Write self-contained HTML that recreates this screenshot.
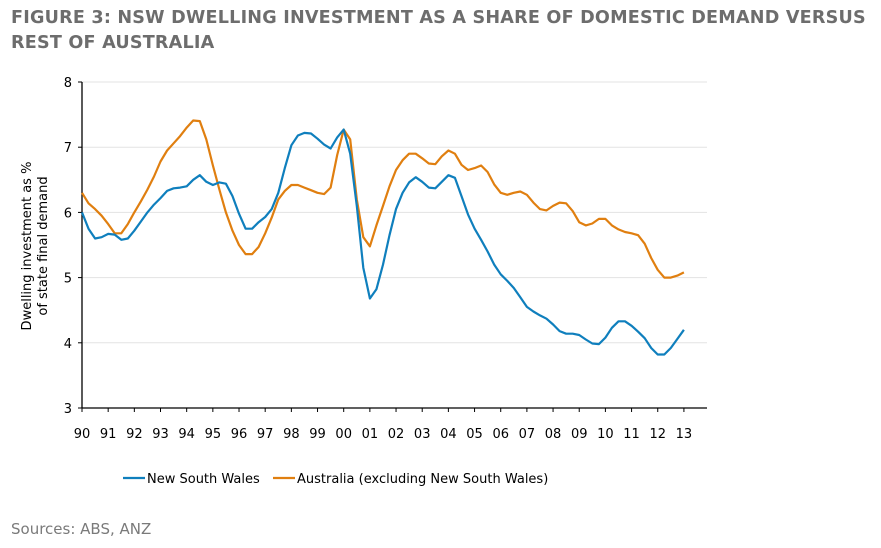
<!DOCTYPE html>
<html><head><meta charset="utf-8"><style>
body{margin:0;width:881px;height:548px;background:#fff;font-family:"DejaVu Sans","Liberation Sans",sans-serif;overflow:hidden}
.title{position:absolute;left:11px;top:6px;font-weight:bold;font-size:17.6px;color:#6d6d6d;line-height:25px;letter-spacing:0.2px;white-space:nowrap}
.src{position:absolute;left:11px;top:520px;font-size:15px;color:#7a7a7a}
</style></head><body>
<div class="title">FIGURE 3: NSW DWELLING INVESTMENT AS A SHARE OF DOMESTIC DEMAND VERSUS<br>REST OF AUSTRALIA</div>
<svg id="chart" width="881" height="548" style="position:absolute;left:0;top:0;font-family:'DejaVu Sans',sans-serif"></svg>
<div class="src">Sources: ABS, ANZ</div>
<script>
const yTicks=[3,4,5,6,7,8];
const xLabels=["90","91","92","93","94","95","96","97","98","99","00","01","02","03","04","05","06","07","08","09","10","11","12","13"];
const nsw=[6.0,5.75,5.6,5.62,5.67,5.66,5.58,5.6,5.72,5.86,6.0,6.12,6.22,6.33,6.37,6.38,6.4,6.5,6.57,6.47,6.42,6.46,6.44,6.25,5.98,5.75,5.75,5.85,5.93,6.05,6.3,6.68,7.03,7.18,7.22,7.21,7.13,7.04,6.98,7.15,7.27,6.9,6.1,5.15,4.68,4.82,5.2,5.65,6.05,6.3,6.46,6.54,6.47,6.38,6.37,6.47,6.57,6.53,6.25,5.97,5.75,5.58,5.4,5.2,5.05,4.95,4.84,4.7,4.55,4.48,4.42,4.37,4.28,4.18,4.14,4.14,4.12,4.05,3.99,3.98,4.08,4.23,4.33,4.33,4.26,4.17,4.07,3.92,3.82,3.82,3.92,4.06,4.2];
const aus=[6.3,6.14,6.05,5.95,5.82,5.68,5.68,5.82,6.0,6.17,6.35,6.55,6.78,6.95,7.06,7.17,7.3,7.41,7.4,7.12,6.72,6.35,6.0,5.72,5.5,5.36,5.36,5.47,5.68,5.92,6.2,6.33,6.42,6.42,6.38,6.34,6.3,6.28,6.38,6.88,7.27,7.12,6.2,5.62,5.48,5.8,6.1,6.4,6.65,6.8,6.9,6.9,6.83,6.75,6.74,6.86,6.95,6.9,6.73,6.65,6.68,6.72,6.62,6.43,6.3,6.27,6.3,6.32,6.27,6.15,6.05,6.03,6.1,6.15,6.14,6.02,5.85,5.8,5.83,5.9,5.9,5.8,5.74,5.7,5.68,5.65,5.52,5.3,5.12,5.0,5.0,5.03,5.08];
const startYear=1990;
const svg=document.getElementById('chart');
const NS='http://www.w3.org/2000/svg';
const X0=82,X1=707,Y0=408,Y1=82;
function y(v){return Y0-(v-3)/(8-3)*(Y0-Y1);}
function xYear(t){return X0+(t-startYear)*26.17;}
function xi(i){return xYear(startYear+i/4);}
function el(tag,a){const e=document.createElementNS(NS,tag);for(const k in a)e.setAttribute(k,a[k]);svg.appendChild(e);return e;}
yTicks.forEach(v=>{
  if(v>3){const g=el('line',{x1:X0,x2:X1,y1:y(v),y2:y(v),stroke:'#e3e3e3','stroke-width':1});
  
  }
  const tk=el('line',{x1:X0-4,x2:X0,y1:y(v),y2:y(v),stroke:'#000'});
  
  
  const t=el('text',{x:X0-10,y:y(v)+5,'text-anchor':'end','font-size':13,fill:'#000'});
  t.textContent=v;
  
  
});
const ax=el('line',{x1:X0,x2:X0,y1:Y1,y2:Y0,stroke:'#000','stroke-width':1.3});


const bx=el('line',{x1:X0,x2:X1,y1:Y0,y2:Y0,stroke:'#000','stroke-width':1.3});


xLabels.forEach((l,i)=>{
  const xx=xYear(startYear+i);
  const tk=el('line',{x1:xx,x2:xx,y1:Y0,y2:Y0+4,stroke:'#000'});
  
  
  const t=el('text',{x:xx,y:Y0+30,'text-anchor':'middle','font-size':13,fill:'#000'});
  t.textContent=l;
  
  
});
const yt=el('text',{transform:'translate(31,246) rotate(-90)','text-anchor':'middle','font-size':13,fill:'#000'});


const s1=document.createElementNS(NS,'tspan');s1.setAttribute('x',0);s1.setAttribute('dy',0);s1.textContent='Dwelling investment as %';yt.appendChild(s1);
const s2=document.createElementNS(NS,'tspan');s2.setAttribute('x',0);s2.setAttribute('dy',16);s2.textContent='of state final demand';yt.appendChild(s2);
function line(data,color,name){
  const p=el('polyline',{points:data.map((v,i)=>xi(i).toFixed(1)+','+y(v).toFixed(1)).join(' '),fill:'none',stroke:color,'stroke-width':2.2,'stroke-linejoin':'round'});
  
  
}
line(aus,'#e07f10','series-australia-ex-nsw');
line(nsw,'#0f7fbd','series-nsw');
function legend(x,color,label,name){
  const l=el('line',{x1:x,x2:x+22,y1:478,y2:478,stroke:color,'stroke-width':2.2});
  
  
  const t=el('text',{x:x+24,y:483,'font-size':13,fill:'#000'});
  t.textContent=label;
  
  
}
legend(123,'#0f7fbd','New South Wales','legend-entry-nsw');
legend(273,'#e07f10','Australia (excluding New South Wales)','legend-entry-australia');
</script>
</body></html>
